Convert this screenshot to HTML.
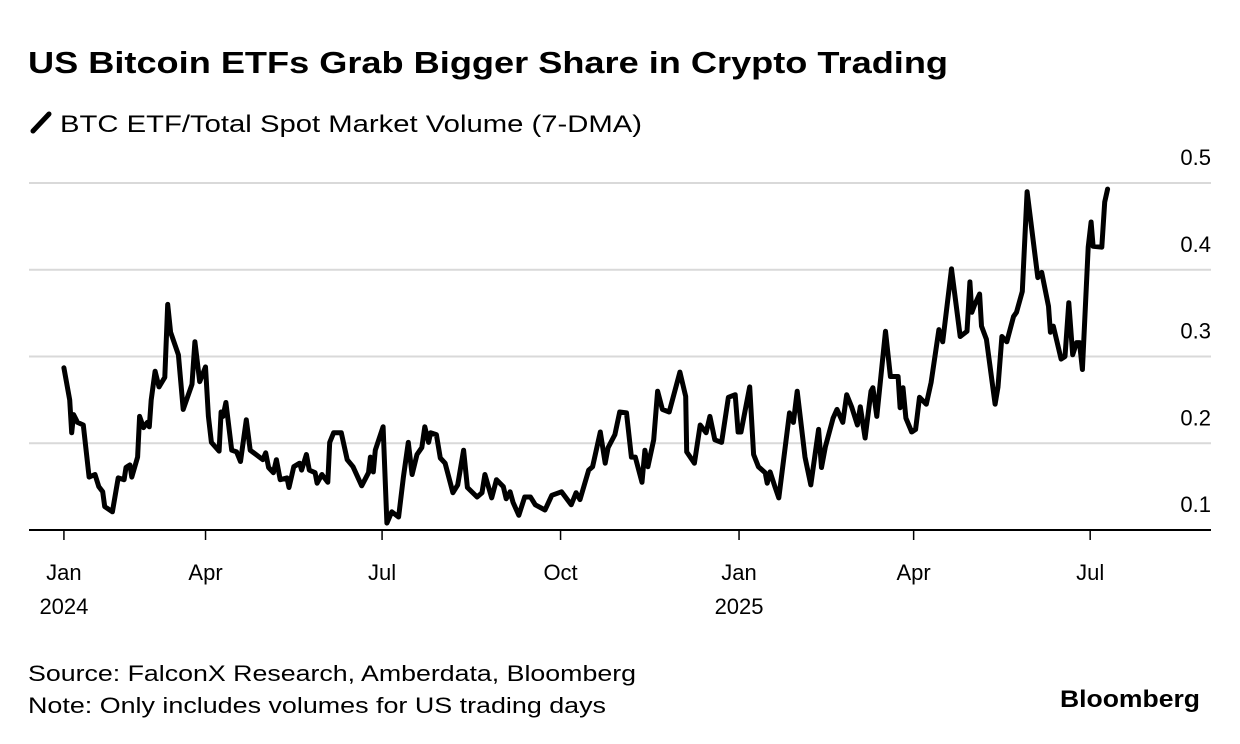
<!DOCTYPE html>
<html><head><meta charset="utf-8">
<style>
html,body{margin:0;padding:0;background:#fff;}
svg{display:block;font-family:"Liberation Sans",Arial,sans-serif;}
</style></head>
<body>
<svg id="chart" width="1240" height="744" viewBox="0 0 1240 744" xmlns="http://www.w3.org/2000/svg">
  <text x="28" y="73" font-size="31" font-weight="bold" fill="#000" textLength="920" lengthAdjust="spacingAndGlyphs">US Bitcoin ETFs Grab Bigger Share in Crypto Trading</text>
  <g>
    <line x1="33" y1="131" x2="49" y2="114" stroke="#000" stroke-width="5" stroke-linecap="round"/>
    <text x="60" y="132" font-size="24" fill="#000" textLength="582" lengthAdjust="spacingAndGlyphs">BTC ETF/Total Spot Market Volume (7-DMA)</text>
  </g>
  <g id="grid"></g>
  <g id="yticks"></g>
  <g id="xticks"></g>
  <g id="series"></g>
  <text x="28" y="681" font-size="22" fill="#000" textLength="608" lengthAdjust="spacingAndGlyphs">Source: FalconX Research, Amberdata, Bloomberg</text>
  <text x="28" y="713" font-size="22" fill="#000" textLength="578" lengthAdjust="spacingAndGlyphs">Note: Only includes volumes for US trading days</text>
  <text x="1200" y="707" font-size="24" font-weight="bold" fill="#000" text-anchor="end" textLength="140" lengthAdjust="spacingAndGlyphs">Bloomberg</text>
</svg>
<script>
// days since Jan 1 2024
const days = [18,21,22,23,25,28,31,34,36,38,39,43,46,49,50,52,53,56,57,59,61,62,63,65,67,70,71.5,73,77,79.5,84,85.5,88,91,92.5,94,98,99,100,101.5,104.5,107,109,112,114,117,120.5,122,123.5,126,127.5,129.5,133,134,136.5,139.5,140.5,143,144.5,147.5,148.5,151,154,155,157,161,164,167,171.5,175,176,177.5,178.5,182.5,184.5,187,190.5,193,195.5,197.5,200,202.5,204,206,207,210,212,214.5,218.5,221,224,226,231,233.5,235,238.5,241,244.5,246,248,249.5,252.5,255.5,258.5,261,266,269.5,274.5,279.5,282,284,288.5,290.5,294.5,297,298.5,302,304.5,308,310.5,312.5,316,317.5,319,322,324,326.5,330,335.5,338.5,339,343,346,349,351,353.5,357,360.5,364,365.5,367,371.5,373.5,376,379.5,380.5,382,384.5,386.5,392,394,396,400,403,407,408.5,410.5,414.5,416.5,419.5,421.5,424,427,428.5,431,434,435,437,441.5,444,448,449,450.5,452,455,457,459,462.5,465,469,471,475.5,480,483.5,485,486,487.5,490,491,493.5,498,499.5,501.5,504,507.5,509,512,514.5,520,522,525.5,526.5,528,532,534,536,538,540,541.5,543,546,547.5,548.5,553,554.5,556];
const values = [0.287,0.250,0.212,0.233,0.224,0.221,0.161,0.164,0.150,0.144,0.127,0.121,0.160,0.158,0.172,0.175,0.161,0.184,0.231,0.218,0.224,0.219,0.250,0.283,0.265,0.276,0.360,0.328,0.302,0.239,0.268,0.317,0.271,0.288,0.231,0.201,0.191,0.236,0.231,0.247,0.192,0.190,0.179,0.227,0.192,0.187,0.181,0.189,0.172,0.166,0.181,0.158,0.160,0.149,0.173,0.177,0.169,0.187,0.169,0.166,0.154,0.164,0.155,0.201,0.212,0.212,0.181,0.173,0.151,0.166,0.184,0.167,0.192,0.219,0.108,0.121,0.115,0.161,0.201,0.164,0.187,0.195,0.219,0.201,0.212,0.210,0.183,0.177,0.143,0.152,0.192,0.149,0.138,0.143,0.164,0.137,0.158,0.150,0.136,0.144,0.132,0.117,0.138,0.138,0.129,0.123,0.140,0.144,0.129,0.143,0.135,0.169,0.173,0.213,0.177,0.195,0.210,0.236,0.235,0.184,0.184,0.155,0.192,0.173,0.204,0.260,0.239,0.236,0.282,0.254,0.190,0.177,0.221,0.212,0.231,0.204,0.201,0.253,0.256,0.213,0.213,0.265,0.187,0.173,0.166,0.154,0.167,0.150,0.137,0.235,0.224,0.260,0.184,0.152,0.216,0.172,0.196,0.229,0.239,0.224,0.256,0.242,0.221,0.242,0.206,0.260,0.264,0.231,0.329,0.277,0.277,0.241,0.264,0.229,0.213,0.216,0.253,0.245,0.270,0.331,0.317,0.401,0.323,0.329,0.386,0.351,0.360,0.372,0.335,0.320,0.245,0.265,0.323,0.317,0.346,0.351,0.375,0.490,0.391,0.397,0.358,0.328,0.335,0.297,0.300,0.362,0.302,0.316,0.316,0.285,0.426,0.455,0.427,0.426,0.478,0.493];
const yTickValues = [0.1,0.2,0.3,0.4,0.5];
const yTickLabels = ["0.1","0.2","0.3","0.4","0.5"];
const xTickDays = [18,91,182,274,366,456,547];
const xTickLabels = ["Jan","Apr","Jul","Oct","Jan","Apr","Jul"];
const xTickYears = ["2024","","","","2025","",""];

const NS = "http://www.w3.org/2000/svg";
const X0 = 29, PXPERDAY = 1.94;
function xScale(d){ return X0 + d * PXPERDAY; }
function yScale(v){ return 530 - (v - 0.1) / 0.4 * 347; }
function mk(tag, attrs){ const e = document.createElementNS(NS, tag); for (const k in attrs) e.setAttribute(k, attrs[k]); return e; }

const grid = document.getElementById('grid');
const yt = document.getElementById('yticks');
yTickValues.forEach((v, i) => {
  const y = yScale(v);
  if (v > 0.1) {
    const l = mk('line', {x1: 29, x2: 1211, y1: y, y2: y, stroke: '#d9d9d9', 'stroke-width': 2});
    
    
    grid.appendChild(l);
  }
  const t = mk('text', {x: 1211, y: y - 18, 'font-size': 22, 'text-anchor': 'end', fill: '#000'});
  
  
  t.textContent = yTickLabels[i];
  yt.appendChild(t);
});

const xt = document.getElementById('xticks');
const axis = mk('line', {x1: 29, x2: 1211, y1: 530, y2: 530, stroke: '#000', 'stroke-width': 2});


xt.appendChild(axis);
xTickDays.forEach((d, i) => {
  const x = xScale(d);
  const tk = mk('line', {x1: x, x2: x, y1: 530, y2: 540, stroke: '#000', 'stroke-width': 1.5});
  
  
  xt.appendChild(tk);
  const t = mk('text', {x: x, y: 580, 'font-size': 22, 'text-anchor': 'middle', fill: '#000'});
  
  
  t.textContent = xTickLabels[i];
  xt.appendChild(t);
  if (xTickYears[i]) {
    const ty = mk('text', {x: x, y: 614, 'font-size': 22, 'text-anchor': 'middle', fill: '#000'});
    
    
    ty.textContent = xTickYears[i];
    xt.appendChild(ty);
  }
});

const pts = days.map((d, i) => xScale(d).toFixed(1) + ',' + yScale(values[i]).toFixed(1)).join(' ');
const line = mk('polyline', {points: pts, fill: 'none', stroke: '#000', 'stroke-width': 5, 'stroke-linejoin': 'round', 'stroke-linecap': 'round'});


document.getElementById('series').appendChild(line);
</script>
</body></html>
